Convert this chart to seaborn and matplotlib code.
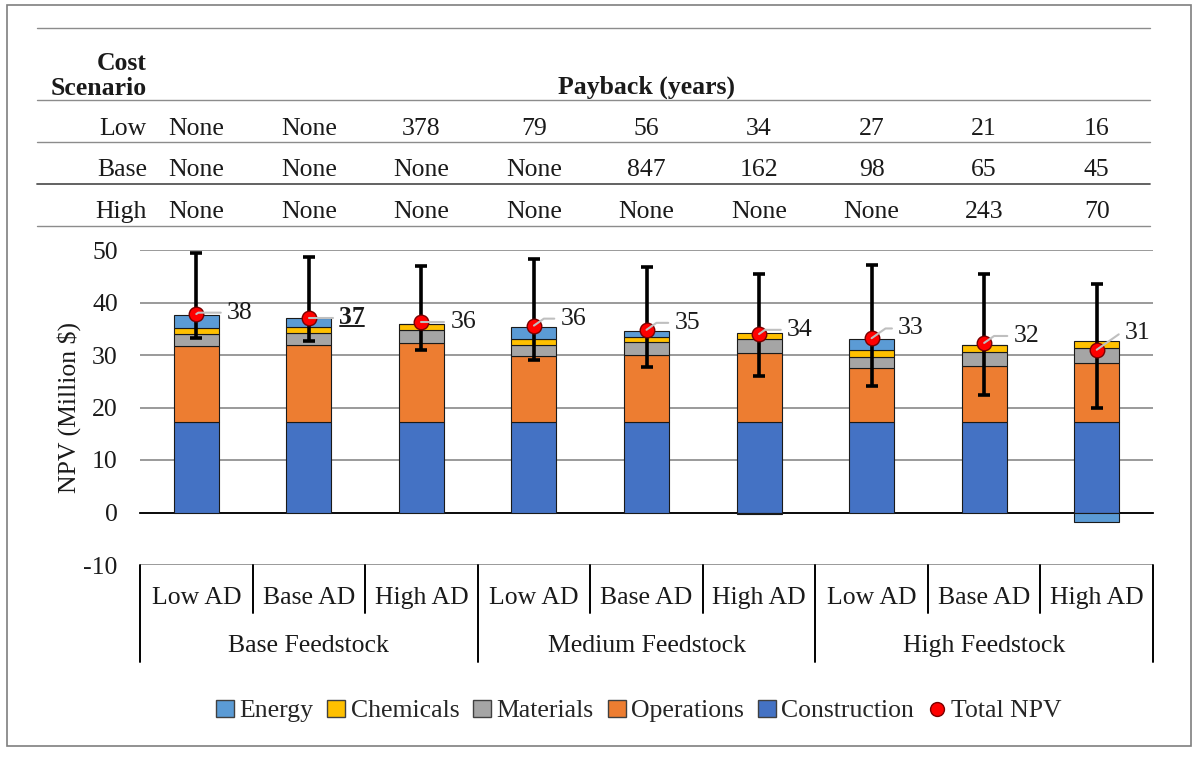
import numpy as np
import pandas as pd
import seaborn as sns
import matplotlib.pyplot as plt
from matplotlib.patches import Patch, Rectangle
from matplotlib.lines import Line2D
from matplotlib.text import Text
from matplotlib.transforms import blended_transform_factory

groups = ["Base Feedstock", "Medium Feedstock", "High Feedstock"]
ad_levels = ["Low AD", "Base AD", "High AD"]

construction = [17.2, 17.2, 17.2, 17.2, 17.2, 17.2, 17.2, 17.2, 17.2]
operations = [14.6, 14.7, 15.1, 12.6, 12.8, 13.2, 10.3, 10.7, 11.3]
materials = [2.2, 2.3, 2.5, 2.1, 2.4, 2.6, 2.2, 2.6, 2.9]
chemicals = [1.1, 1.1, 1.2, 1.2, 1.1, 1.2, 1.3, 1.4, 1.3]
energy = [2.5, 1.8, 0.0, 2.3, 1.0, -0.3, 2.1, 0.0, -1.8]
total_npv = [37.8, 37.1, 36.3, 35.6, 34.8, 34.0, 33.2, 32.3, 31.0]
err_low = [33.2, 32.7, 30.9, 29.0, 27.8, 26.0, 24.1, 22.4, 20.0]
err_high = [49.5, 48.6, 47.0, 48.3, 46.8, 45.5, 47.2, 45.4, 43.5]
npv_labels = ["38", "37", "36", "36", "35", "34", "33", "32", "31"]

cost_scenarios = ["Low", "Base", "High"]
payback_low = ["None", "None", "378", "79", "56", "34", "27", "21", "16"]
payback_base = ["None", "None", "None", "None", "847", "162", "98", "65", "45"]
payback_high = ["None", "None", "None", "None", "None", "None", "None", "243", "70"]

colors = {"Energy": "#5B9BD5", "Chemicals": "#FFC000", "Materials": "#A5A5A5",
          "Operations": "#ED7D31", "Construction": "#4472C4"}

sns.set_theme(style="white")
plt.rcParams['font.family'] = ['Liberation Serif', 'DejaVu Serif']
plt.rcParams['axes.unicode_minus'] = False
FS = 18.5
TC = "#1a1a1a"

keys = [f"{g}|{a}" for g in groups for a in ad_levels]
n = len(keys)
idx = np.arange(n)

fig = plt.figure(figsize=(12, 7.58), dpi=100)
ax = fig.add_axes([140 / 1200, 1 - 565 / 758, 1013 / 1200, 315 / 758])

# stacked layers
cons = np.array(construction)
ops = np.array(operations)
mat = np.array(materials)
chem = np.array(chemicals)
en = np.array(energy)
layers = [
    ("Construction", cons, np.zeros(n)),
    ("Operations", ops, cons),
    ("Materials", mat, cons + ops),
    ("Chemicals", chem, cons + ops + mat),
    ("Energy", en, np.where(en >= 0, cons + ops + mat + chem, 0)),
]
for name, h, b in layers:
    df = pd.DataFrame({"case": keys, "value": h})
    sns.barplot(data=df, x="case", y="value", order=keys, bottom=b,
                color=colors[name], saturation=1, width=0.4,
                edgecolor="#1a1a1a", linewidth=0.8, errorbar=None, ax=ax, zorder=3)

tot = np.array(total_npv)
ax.errorbar(idx, tot, yerr=[tot - np.array(err_low), np.array(err_high) - tot],
            fmt="none", ecolor="black", elinewidth=2.6, capsize=4.3, capthick=2.6, zorder=4)
sns.scatterplot(x=idx, y=tot, ax=ax, s=110, color="#FF0000", edgecolor="#7a0000",
                linewidth=1.0, zorder=5, legend=False)

# data labels with leader lines
offsets = [(22, 1), (22, 0), (21, 0), (19, 5), (20, 5), (20, 3), (19, 7), (21, 5), (20, 12)]
label_texts = []
for i, lab in enumerate(npv_labels):
    t = ax.annotate(lab, xy=(idx[i], tot[i]), xytext=offsets[i], textcoords="offset points",
                    ha="left", va="center", fontsize=FS, color=TC, zorder=6,
                    fontweight="bold" if i == 1 else "normal",
                    arrowprops=dict(arrowstyle="-", color="#bfbfbf", lw=1.5, shrinkA=2, shrinkB=0,
                                    connectionstyle="angle,angleA=0,angleB=35,rad=0"))
    label_texts.append(t)

ax.set_ylim(-10, 50)
ax.set_xlim(-0.5, n - 0.5)
ax.set_yticks(np.arange(-10, 51, 10))
ax.yaxis.grid(True, color="#7f7f7f", lw=1.1, zorder=0)
ax.set_axisbelow(True)
ax.tick_params(axis="y", length=0, labelsize=FS, pad=16, colors=TC)
ax.set_ylabel("NPV (Million $)", fontsize=FS, labelpad=2, color=TC)
ax.set_xlabel("")
for s in ["top", "right", "left"]:
    ax.spines[s].set_visible(False)
ax.spines["bottom"].set_position(("data", 0))
ax.spines["bottom"].set_color("black")
ax.spines["bottom"].set_linewidth(1.3)
ax.set_xticks(idx)
ax.set_xticklabels([])
ax.tick_params(axis="x", which="major", length=0)
ax.set_xticks(np.arange(-0.5, n, 1), minor=True)
ax.tick_params(axis="x", which="minor", length=7, width=1.3, color="black", direction="out")

# multi-level category labels
tx = ax.get_xaxis_transform()
for i, k in enumerate(keys):
    ax.text(i, -0.105, k.split("|")[1], transform=tx, ha="center", va="center", fontsize=FS, color=TC)
for j, g in enumerate(groups):
    ax.text(j * 3 + 1, -0.257, g, transform=tx, ha="center", va="center", fontsize=FS, color=TC)
for b in np.arange(-0.5, n, 1):
    major = (b + 0.5) % 3 == 0
    ax.plot([b, b], [0, -0.308 if major else -0.152], transform=tx, color="black",
            lw=1.4, clip_on=False)

# payback table
bt = blended_transform_factory(ax.transData, fig.transFigure)
def fy(p):
    return 1 - p / 758
for p, c, w in [(28, "#8c8c8c", 1.0), (100, "#8c8c8c", 1.0), (142, "#8c8c8c", 1.0),
                (184, "#555555", 1.3), (226, "#8c8c8c", 1.0)]:
    fig.add_artist(Line2D([37 / 1200, 1150 / 1200], [fy(p), fy(p)], color=c, lw=w))
fig.text(147 / 1200, fy(76), "Cost\nScenario", ha="right", va="center", fontsize=FS,
         fontweight="bold", linespacing=1.1, color=TC)
ax.text((n - 1) / 2, fy(87), "Payback (years)", transform=bt, ha="center", va="center",
        fontsize=FS, fontweight="bold", color=TC)
for sc, row, p in zip(cost_scenarios, [payback_low, payback_base, payback_high], [129, 170, 212]):
    fig.text(147 / 1200, fy(p), sc, ha="right", va="center", fontsize=FS, color=TC)
    for i, v in enumerate(row):
        ax.text(i, fy(p), v, transform=bt, ha="center", va="center", fontsize=FS, color=TC)

# legend
handles = [Patch(facecolor=colors[k], edgecolor="#404040", lw=1.0, label=k)
           for k in ["Energy", "Chemicals", "Materials", "Operations", "Construction"]]
handles.append(Line2D([], [], marker="o", ls="none", markersize=10, markerfacecolor="#FF0000",
                      markeredgecolor="#7a0000", label="Total NPV"))
fig.legend(handles=handles, loc="center", bbox_to_anchor=(639 / 1200, fy(711)), ncol=6,
           frameon=False, fontsize=FS, handlelength=0.7, handleheight=0.7,
           handletextpad=0.2, columnspacing=0.55)

fig.add_artist(Rectangle((7 / 1200, fy(746)), 1184 / 1200, 741 / 758, transform=fig.transFigure,
                         fill=False, edgecolor="#7f7f7f", lw=1.2))

# underline the bold "37" label
fig.canvas.draw()
bb = Text.get_window_extent(label_texts[1], fig.canvas.get_renderer())
fig.add_artist(Line2D([(bb.x0 + 1) / 1200, (bb.x1 - 1) / 1200], [(bb.y0 + 3) / 758, (bb.y0 + 3) / 758],
                      color=TC, lw=1.4))

fig.savefig("out.png", dpi=100)
